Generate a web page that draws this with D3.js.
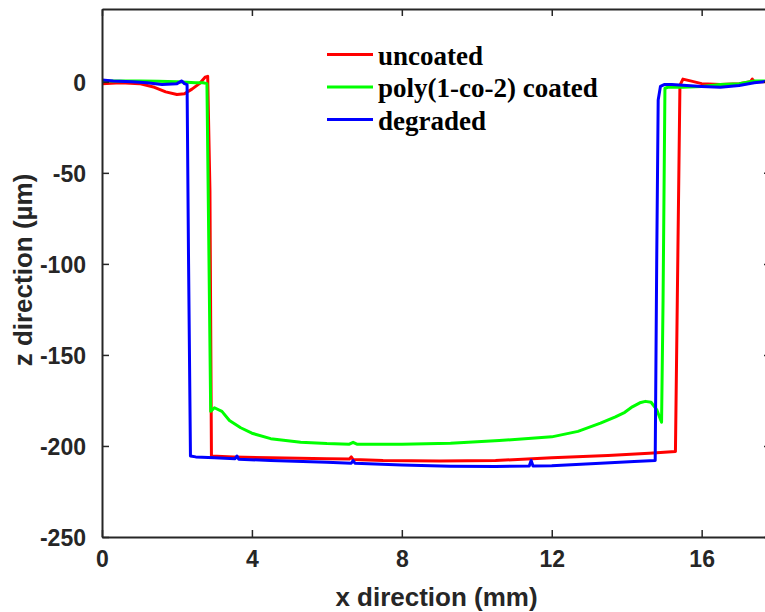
<!DOCTYPE html>
<html>
<head>
<meta charset="utf-8">
<script src="https://cdn.jsdelivr.net/npm/d3@7"></script>
<style>
  body { margin: 0; background: #fff; }
  svg { display: block; }
  .tick text { font-family: "Liberation Sans", Arial, sans-serif; font-weight: bold; font-size: 23px; fill: #262626; }
  .title { font-family: "Liberation Sans", Arial, sans-serif; font-weight: bold; font-size: 26px; fill: #262626; }
  .legend text { font-family: "Liberation Serif", "Times New Roman", serif; font-weight: bold; font-size: 27px; fill: #000; }
</style>
</head>
<body>
<div id="chart"></div>
<script>
// profile data (x in mm, z in µm)
var uncoatedX = [0, 0.5, 1.0, 1.4, 1.7, 2.0, 2.2, 2.4, 2.6, 2.75, 2.82, 2.88, 2.92, 3.5, 4.5, 6.0, 6.6, 6.65, 6.7, 7.5, 9.0, 10.5, 12.0, 13.5, 14.6, 15.3, 15.35, 15.42, 15.5, 15.7, 16.0, 16.5, 17.0, 17.3, 17.35, 17.4, 17.85];
var uncoatedZ = [-1, -0.5, -1, -3, -5.5, -7, -6.5, -4, -1, 2.5, 3, -60, -205.5, -206, -206.5, -207, -207.2, -206, -207.5, -208, -208.2, -208, -206.5, -205.3, -204, -203, -120, -2, 1.5, 0.5, -1, -1.5, -1, 0, 1.5, 0, 0];

var coatedX = [0, 0.5, 1.0, 1.5, 2.0, 2.5, 2.7, 2.8, 2.85, 2.9, 3.0, 3.2, 3.4, 3.7, 4.0, 4.5, 5.3, 6.0, 6.6, 6.7, 6.8, 8.0, 9.3, 10.6, 12.0, 12.7, 13.3, 13.7, 13.95, 14.15, 14.35, 14.5, 14.65, 14.8, 14.93, 14.97, 15.02, 15.1, 15.5, 16.0, 16.5, 17.0, 17.4, 17.85];
var coatedZ = [0.5, 0.5, 0.5, 0.3, 0, -0.5, -0.5, -1, -90, -181, -179, -181, -186, -190, -193, -196, -198, -198.7, -199, -198, -199, -199, -198.5, -197, -195, -192, -187.5, -184, -181.5, -178.5, -176.3, -175.5, -176, -180, -187, -120, -3.5, -3, -3, -2.5, -1.5, -1, 0.5, 0.5];

var degradedX = [0, 0.3, 0.8, 1.2, 1.6, 2.0, 2.13, 2.2, 2.27, 2.31, 2.36, 2.5, 3.0, 3.55, 3.6, 3.65, 4.5, 6.0, 6.65, 6.7, 6.75, 8.0, 9.3, 10.5, 11.4, 11.45, 11.5, 12.0, 13.3, 14.2, 14.76, 14.8, 14.84, 14.9, 15.0, 15.2, 15.6, 16.0, 16.5, 17.0, 17.4, 17.85];
var degradedZ = [1, 0.5, 0, -0.5, -1.5, -1, 0.5, -1, -1.5, -100, -205.5, -206, -206.5, -207, -205.5, -207.3, -208, -209, -209.5, -208, -209.5, -210.5, -211.2, -211.3, -211, -208, -211, -210.8, -209.5, -208.5, -208, -100, -10, -2.5, -1.5, -1.5, -2, -2.5, -3, -2, -0.5, 0.5];

var seriesNames = ["uncoated", "poly(1-co-2) coated", "degraded"];
var seriesColors = ["#ff0000", "#00ff00", "#0000ff"];
var xTicks = [0, 4, 8, 12, 16];
var yTicks = [-250, -200, -150, -100, -50, 0];

var width = 765, height = 612;
var x = d3.scaleLinear().domain([0, 17.85]).range([102, 771]);
var y = d3.scaleLinear().domain([-250, 40]).range([537, 9]);

var svg = d3.select("#chart").append("svg")
    .attr("width", width)
    .attr("height", height);

svg.append("defs").append("clipPath").attr("id", "plotClip")
  .append("rect")
    .attr("x", x.range()[0]).attr("y", y.range()[1])
    .attr("width", x.range()[1] - x.range()[0])
    .attr("height", y.range()[0] - y.range()[1]);

// data lines
var series = [
  {x: uncoatedX, z: uncoatedZ},
  {x: coatedX, z: coatedZ},
  {x: degradedX, z: degradedZ}
];

var line = d3.line()
    .x(function(d) { return x(d[0]); })
    .y(function(d) { return y(d[1]); });

var lines = svg.append("g").attr("clip-path", "url(#plotClip)");
series.forEach(function(s, i) {
  var pts = s.x.map(function(v, j) { return [v, s.z[j]]; });
  lines.append("path")
      .datum(pts)
      .attr("fill", "none")
      .attr("stroke", seriesColors[i])
      .attr("stroke-width", 3)
      .attr("stroke-linejoin", "round")
      .attr("d", line);
});

// axes, MATLAB style box with inward ticks
var axisColor = "#262626";
var plain = function(d) { return String(d); };   // keep ascii hyphen minus
var axBottom = svg.append("g")
    .attr("transform", "translate(0," + y.range()[0] + ")")
    .call(d3.axisBottom(x).tickValues(xTicks).tickSizeInner(-7).tickSizeOuter(0).tickPadding(14).tickFormat(plain));
var axTop = svg.append("g")
    .attr("transform", "translate(0," + y.range()[1] + ")")
    .call(d3.axisTop(x).tickValues(xTicks).tickSizeInner(-7).tickSizeOuter(0).tickFormat(""));
var axLeft = svg.append("g")
    .attr("transform", "translate(" + x.range()[0] + ",0)")
    .call(d3.axisLeft(y).tickValues(yTicks).tickSizeInner(-7).tickSizeOuter(0).tickPadding(16).tickFormat(plain));
var axRight = svg.append("g")
    .attr("transform", "translate(" + x.range()[1] + ",0)")
    .call(d3.axisRight(y).tickValues(yTicks).tickSizeInner(-7).tickSizeOuter(0).tickFormat(""));

[axBottom, axTop, axLeft, axRight].forEach(function(a) {
  a.select(".domain").attr("stroke", axisColor).attr("stroke-width", 2);
  a.selectAll(".tick line").attr("stroke", axisColor).attr("stroke-width", 1.5);
  a.selectAll(".tick text").attr("fill", axisColor);
});
axLeft.selectAll(".tick text").attr("dy", "0.36em");

// axis titles
svg.append("text")
    .attr("class", "title")
    .attr("x", (x.range()[0] + x.range()[1]) / 2)
    .attr("y", 606)
    .attr("text-anchor", "middle")
    .text("x direction (mm)");

svg.append("text")
    .attr("class", "title")
    .attr("transform", "translate(32,270) rotate(-90)")
    .attr("text-anchor", "middle")
    .text("z direction (µm)");

// legend
var legend = svg.append("g").attr("class", "legend");
var legendY = [54.5, 87, 119.5];
seriesNames.forEach(function(name, i) {
  legend.append("line")
      .attr("x1", 327).attr("x2", 373)
      .attr("y1", legendY[i]).attr("y2", legendY[i])
      .attr("stroke", seriesColors[i])
      .attr("stroke-width", 3);
  legend.append("text")
      .attr("x", 378)
      .attr("y", legendY[i] + 10)
      .text(name);
});
</script>
</body>
</html>
